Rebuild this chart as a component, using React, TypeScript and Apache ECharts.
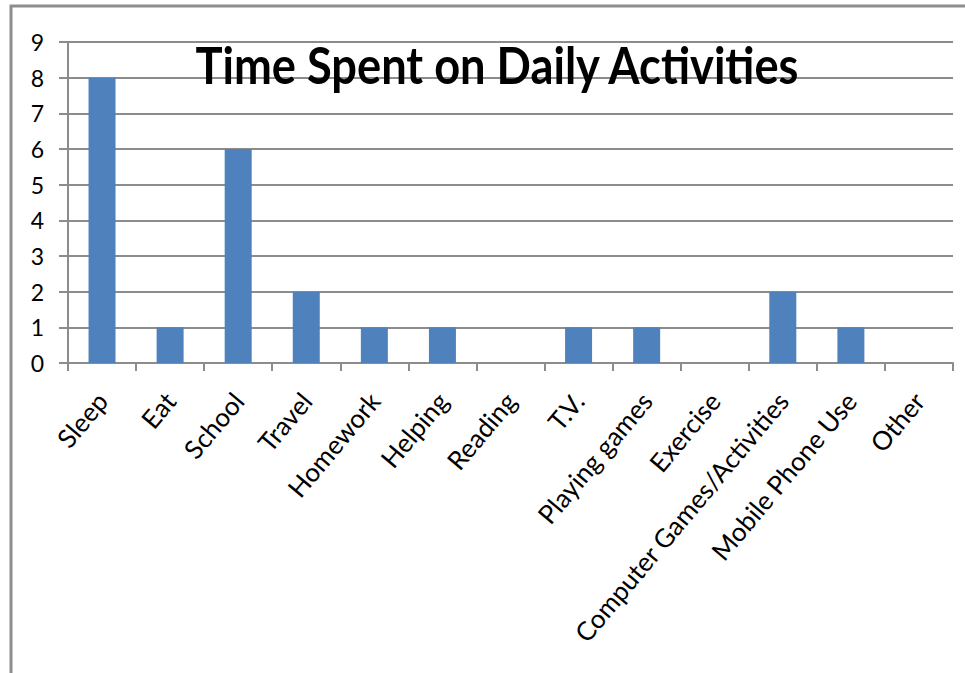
import React, { useEffect, useRef } from "react";
import * as echarts from "echarts";

const categories = [
  "Sleep",
  "Eat",
  "School",
  "Travel",
  "Homework",
  "Helping",
  "Reading",
  "T.V.",
  "Playing games",
  "Exercise",
  "Computer Games/Activities",
  "Mobile Phone Use",
  "Other",
];
const hours = [8, 1, 6, 2, 1, 1, 0, 1, 1, 0, 2, 1, 0];
const titleText = "Time Spent on Daily Activities";

export default function App() {
  const ref = useRef<HTMLDivElement>(null);
  useEffect(() => {
    document.body.style.margin = "0";
    const chart = echarts.init(ref.current!, null, { renderer: "svg" });
    const font = "Lato, 'Open Sans', sans-serif";
    chart.setOption({
      animation: false,
      backgroundColor: "#ffffff",
      grid: { left: 68, right: 12, top: 42, bottom: 310, containLabel: false },
      xAxis: {
        type: "category",
        data: categories,
        boundaryGap: true,
        axisLine: { show: true, lineStyle: { color: "#8c8c8c", width: 2 } },
        axisTick: { show: true, length: 8, lineStyle: { color: "#8c8c8c", width: 2 } },
        axisLabel: {
          interval: 0,
          rotate: 50,
          margin: 33,
          color: "#000",
          fontFamily: font,
          fontSize: 26,
        },
      },
      yAxis: {
        type: "value",
        min: 0,
        max: 9,
        interval: 1,
        axisLine: { show: true, lineStyle: { color: "#8c8c8c", width: 2 } },
        axisTick: { show: true, length: 9, lineStyle: { color: "#8c8c8c", width: 2 } },
        splitLine: { show: true, lineStyle: { color: "#8c8c8c", width: 2 } },
        axisLabel: {
          margin: 24,
          color: "#000",
          fontFamily: font,
          fontSize: 23,
        },
      },
      series: [
        {
          type: "bar",
          data: hours,
          barWidth: 27,
          itemStyle: { color: "#4f81bd" },
        },
      ],
      graphic: [
        {
          type: "polyline",
          shape: { points: [[11, 673], [11, 6], [965, 6]] },
          style: { stroke: "#8e8e8e", lineWidth: 3, fill: "none" },
          z: 100,
        },
        {
          type: "text",
          x: 497,
          y: 64,
          scaleX: 0.87,
          originX: 0,
          style: {
            text: titleText,
            fill: "#000",
            font: "bold 52px Lato, 'Open Sans', sans-serif",
            textAlign: "center",
            textVerticalAlign: "middle",
          },
          z: 100,
        },
      ],
    });
    return () => chart.dispose();
  }, []);
  return <div ref={ref} style={{ width: 965, height: 673 }} />;
}
